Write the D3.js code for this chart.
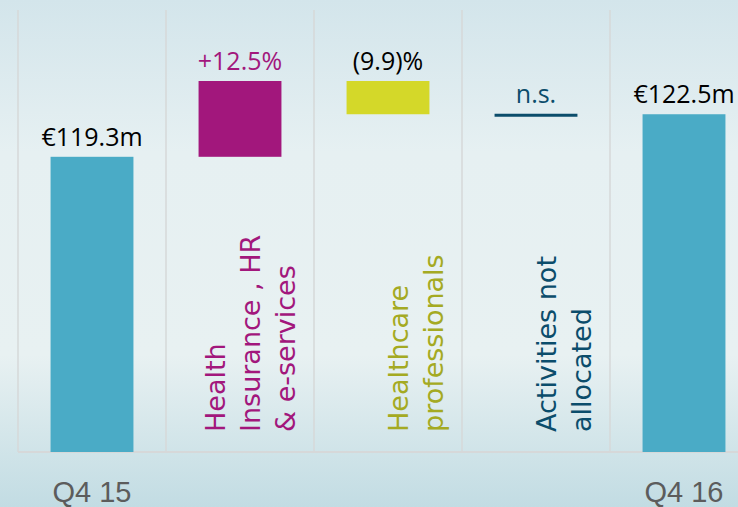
<!DOCTYPE html>
<html>
<head>
<meta charset="utf-8">
<script src="https://cdn.jsdelivr.net/npm/d3@7"></script>
<style>
  html, body { margin: 0; padding: 0; overflow: hidden; }
</style>
</head>
<body>
<script>
const WIDTH = 738;
const HEIGHT = 507;

// waterfall data, Q4 15 -> Q4 16 (€m)
const categories = ['Q4 15', 'Health Insurance , HR & e-services', 'Healthcare professionals', 'Activities not allocated', 'Q4 16'];
const kinds = ['total', 'delta', 'delta', 'delta', 'total'];
const values = [119.3, 5.7, -2.5, 0, 122.5];
const valueLabels = ['€119.3m', '+12.5%', '(9.9)%', 'n.s.', '€122.5m'];
const axisLabels = ['Q4 15', '', '', '', 'Q4 16'];
const nameLines = [[], ['Health', 'Insurance , HR', '& e-services'], ['Healthcare', 'professionals'], ['Activities not', 'allocated'], []];

const barColors = ['#4aabc6', '#a2177c', '#d4d829', '#0b4d6b', '#4aabc6'];
const valueColors = ['#000000', '#a2177c', '#000000', '#0b4d6b', '#000000'];
const nameColors = ['#000', '#a2177c', '#a4aa22', '#0b4d6b', '#000'];

// running totals
let running = 0;
const bars = categories.map((c, i) => {
  let y0, y1;
  if (kinds[i] === 'total') {
    y0 = null; y1 = values[i];
    running = values[i];
  } else {
    y0 = running; y1 = running + values[i];
    running = y1;
  }
  return { c, i, y0, y1 };
});

const svg = d3.select('body').append('svg')
    .attr('width', WIDTH)
    .attr('height', HEIGHT);

// sky-like background
const defs = svg.append('defs');
const bg = defs.append('linearGradient').attr('id', 'sky').attr('x1', 0).attr('y1', 0).attr('x2', 0).attr('y2', 1);
bg.append('stop').attr('offset', '0%').attr('stop-color', '#d3e5eb');
bg.append('stop').attr('offset', '30%').attr('stop-color', '#e6f0f2');
bg.append('stop').attr('offset', '70%').attr('stop-color', '#e8f1f2');
bg.append('stop').attr('offset', '100%').attr('stop-color', '#c2dce3');
svg.append('rect').attr('width', WIDTH).attr('height', HEIGHT).attr('fill', 'url(#sky)');

const x = d3.scaleBand()
    .domain(categories)
    .range([18, 758])
    .paddingInner(0.44)
    .paddingOuter(0.22);

const y = d3.scaleLinear()
    .domain([97.1, 125])
    .range([452, 81]);

const step = x.step();
const bw = x.bandwidth();
const cx = c => x(c) + bw / 2;
const baseY = y.range()[0];

// column separators
svg.append('g').selectAll('line')
  .data(categories)
  .join('line')
    .attr('x1', c => cx(c) - step / 2)
    .attr('x2', c => cx(c) - step / 2)
    .attr('y1', 10)
    .attr('y2', baseY)
    .attr('stroke', '#d6d8d9')
    .attr('stroke-width', 1.5);

svg.append('line')
    .attr('x1', 18).attr('x2', WIDTH)
    .attr('y1', baseY).attr('y2', baseY)
    .attr('stroke', '#d6d8d9')
    .attr('stroke-width', 2);

// bars
bars.forEach(d => {
  const color = barColors[d.i];
  if (d.y0 === null) {
    svg.append('rect')
      .attr('x', x(d.c)).attr('width', bw)
      .attr('y', y(d.y1)).attr('height', baseY - y(d.y1))
      .attr('fill', color);
  } else if (d.y0 === d.y1) {
    svg.append('line')
      .attr('x1', x(d.c)).attr('x2', x(d.c) + bw)
      .attr('y1', y(d.y1) + 1).attr('y2', y(d.y1) + 1)
      .attr('stroke', color).attr('stroke-width', 3);
  } else {
    const top = y(Math.max(d.y0, d.y1));
    const bottom = y(Math.min(d.y0, d.y1));
    svg.append('rect')
      .attr('x', x(d.c)).attr('width', bw)
      .attr('y', top).attr('height', bottom - top)
      .attr('fill', color);
  }
});

// value labels above bars
svg.append('g').selectAll('text')
  .data(bars)
  .join('text')
    .attr('x', d => cx(d.c))
    .attr('y', d => y(d.y0 === null ? d.y1 : Math.max(d.y0, d.y1)) - 11)
    .attr('text-anchor', 'middle')
    .attr('font-family', '"Open Sans", sans-serif')
    .attr('font-size', 25)
    .attr('fill', d => valueColors[d.i])
    .text(d => valueLabels[d.i]);

// rotated segment names, anchored to the right side of each column
nameLines.forEach((lines, i) => {
  const right = cx(categories[i]) + step / 2 - 19;
  const n = lines.length;
  lines.forEach((line, k) => {
    const bx = right - (n - 1 - k) * 35;
    svg.append('text')
      .attr('transform', `translate(${bx},432) rotate(-90)`)
      .attr('font-family', '"DejaVu Sans", sans-serif')
      .attr('font-size', 27)
      .attr('fill', nameColors[i])
      .text(line);
  });
});

// period labels under the axis
svg.append('g').selectAll('text')
  .data(categories)
  .join('text')
    .attr('x', c => cx(c))
    .attr('y', 502)
    .attr('text-anchor', 'middle')
    .attr('font-family', '"Liberation Sans", sans-serif')
    .attr('font-size', 29)
    .attr('fill', '#5c5c5c')
    .text((c, i) => axisLabels[i]);
</script>
</body>
</html>
